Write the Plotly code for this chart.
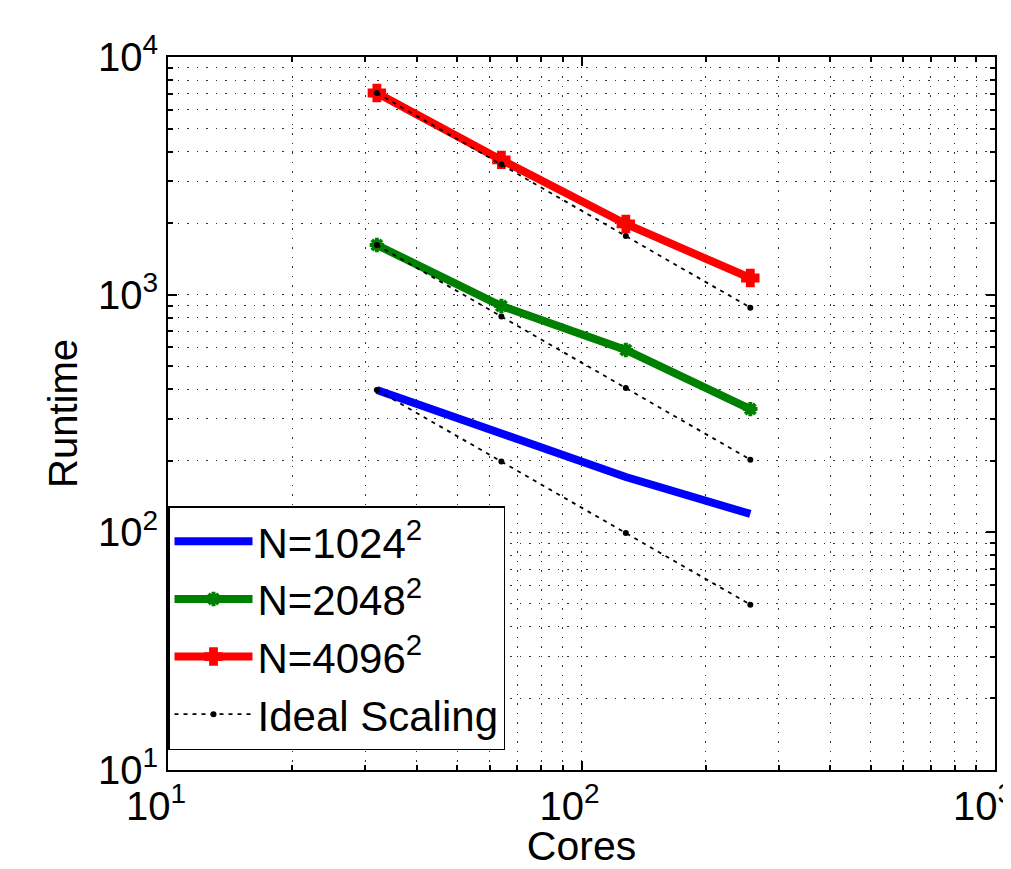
import plotly.graph_objects as go

cores = [32, 64, 128, 256]
rt_1024 = [397, 259, 171, 119.5]
rt_2048 = [1618, 896, 585, 330]
rt_4096 = [7055, 3690, 1984, 1175]

series = [
    ("N=1024<sup>2</sup>", rt_1024, "rgb(0,0,255)", None),
    ("N=2048<sup>2</sup>", rt_2048, "rgb(0,128,0)", "asterisk-open"),
    ("N=4096<sup>2</sup>", rt_4096, "rgb(255,0,0)", "cross"),
]

x_ticks = [10, 100, 1000]
x_ticktext = ["10<sup>1</sup>", "10<sup>2</sup>", "10<sup>3</sup>"]
y_ticks = [10, 100, 1000, 10000]
y_ticktext = ["10<sup>1</sup>", "10<sup>2</sup>", "10<sup>3</sup>", "10<sup>4</sup>"]

def minor_vals(lo_exp, hi_exp):
    return [m * 10 ** e for e in range(lo_exp, hi_exp) for m in range(2, 10)]

fig = go.Figure()

for name, vals, color, sym in series:
    if sym is None:
        fig.add_trace(go.Scatter(x=cores, y=vals, mode="lines", name=name,
                                 line=dict(color=color, width=8)))
    else:
        fig.add_trace(go.Scatter(x=cores, y=vals, mode="lines+markers", name=name,
                                 line=dict(color=color, width=8),
                                 marker=dict(symbol=sym, size=12, color=color,
                                             line=dict(color=color, width=4))))

for i, (name, vals, color, sym) in enumerate(series):
    ideal = [vals[0] * cores[0] / c for c in cores]
    fig.add_trace(go.Scatter(x=cores, y=ideal, mode="lines+markers", name="Ideal Scaling",
                             legendgroup="ideal", showlegend=(i == 0),
                             line=dict(color="black", width=1.8, dash="4px,5px"),
                             marker=dict(symbol="circle", size=6, color="black")))

font_family = "Liberation Sans, Arial, Helvetica, sans-serif"
grid_col = "rgba(0,0,0,0.8)"

axis_common = dict(
    type="log",
    showline=True, linecolor="black", linewidth=2, mirror="ticks",
    ticks="inside", ticklen=9, tickwidth=1.5, tickcolor="black",
    showgrid=True, gridcolor=grid_col, gridwidth=1.3, griddash="1.5px,8px",
    zeroline=False,
    tickfont=dict(size=40, color="black", family=font_family),
    tickmode="array",
    ticklabeloverflow="allow",
)

fig.update_xaxes(**axis_common, range=[1, 3], tickvals=x_ticks, ticktext=x_ticktext,
                 ticklabelshift=-12,
                 minor=dict(tickvals=minor_vals(1, 3), ticks="inside", ticklen=5,
                            tickcolor="black", showgrid=True,
                            gridcolor=grid_col, gridwidth=1.3, griddash="1.5px,8px"),
                 title=dict(text="Cores", font=dict(size=41, color="black", family=font_family),
                            standoff=2))
fig.update_yaxes(**axis_common, range=[1, 4], tickvals=y_ticks, ticktext=y_ticktext,
                 minor=dict(tickvals=minor_vals(1, 4), ticks="inside", ticklen=5,
                            tickcolor="black", showgrid=True,
                            gridcolor=grid_col, gridwidth=1.3, griddash="1.5px,8px"),
                 title=dict(text="Runtime", font=dict(size=40, color="black", family=font_family),
                            standoff=8))

fig.update_layout(
    width=1003, height=861,
    margin=dict(l=160, r=16, t=49, b=99, autoexpand=False),
    paper_bgcolor="white", plot_bgcolor="white",
    font=dict(family=font_family, color="black"),
    showlegend=True,
    legend=dict(x=0, y=0.028, xanchor="left", yanchor="bottom",
                bgcolor="white", bordercolor="black", borderwidth=1.5,
                font=dict(size=42, color="black", family=font_family),
                itemwidth=78, tracegroupgap=0),
)

fig.write_html("out.html")
